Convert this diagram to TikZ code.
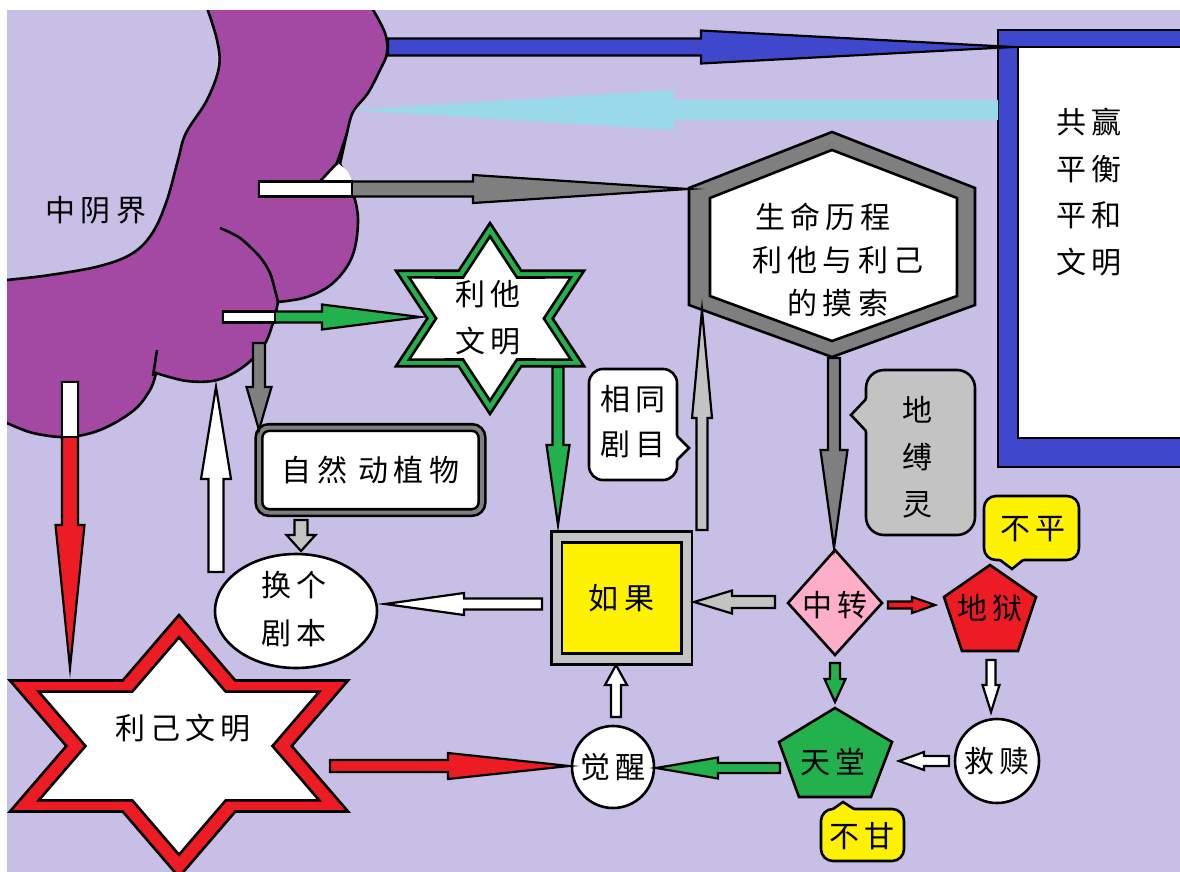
\documentclass[tikz,border=0pt]{standalone}
\usepackage{fontspec}
\newfontfamily\cjk[LetterSpace=17]{Noto Sans CJK SC}
\usetikzlibrary{calc}

\definecolor{lavender}{HTML}{C8BFE7}
\definecolor{cloudpurple}{HTML}{A349A4}
\definecolor{pblue}{HTML}{3F48CC}
\definecolor{pcyan}{HTML}{99D9EA}
\definecolor{dgray}{HTML}{7F7F7F}
\definecolor{lgray}{HTML}{C3C3C3}
\definecolor{pgreen}{HTML}{22B14C}
\definecolor{pred}{HTML}{ED1C24}
\definecolor{pyellow}{HTML}{FFF200}
\definecolor{ppink}{HTML}{FFAEC9}

% fat hand-drawn arrow: [style]{from}{tip}{half shaft}{half head}{head length}
\newcommand\fatarrow[6][]{%
  \draw[#1] let \p1=#2, \p2=#3,
    \n1={atan2(\y2-\y1,\x2-\x1)}, \n2={veclen(\x2-\x1,\y2-\y1)} in
    [shift={(\p1)}, rotate=\n1]
    (0,#4) -- (\n2-#6,#4) -- (\n2-#6,#5) -- (\n2,0) -- (\n2-#6,-#5)
    -- (\n2-#6,-#4) -- (0,-#4) -- cycle;}

\tikzset{
  txt/.style={font=\cjk\fontsize{30}{46}\selectfont, align=center, inner sep=0pt},
  outl/.style={draw=black, line width=2.6pt, line join=miter},
  arr/.style={draw=black, line width=2.2pt, line join=miter, miter limit=20},
  cloud/.style={fill=cloudpurple, draw=black, line width=2.6pt},
}

\begin{document}
\begin{tikzpicture}[x=1pt, y=-1pt]
\useasboundingbox (0,0) rectangle (1180,872);
\clip (0,0) rectangle (1180,872);
\fill[lavender] (0,0) rectangle (1180,872);

% cloud
\draw[cloud] (207,-5)
  -- plot[smooth, tension=.6] coordinates {(207,8) (217,40) (219,67) (207,100) (186,133) (178,160) (167,200) (153,232) (133,253) (100,266) (50,275) (7,280) (-5,281)}
  -- (-5,421)
  -- plot[smooth, tension=.6] coordinates {(7,423) (33,433) (67,437) (100,430) (133,411) (150,390) (156,373)}
  -- plot[smooth, tension=.6] coordinates {(156,373) (187,381) (217,380) (243,367) (263,347) (273,323) (278,302)}
  -- plot[smooth, tension=.6] coordinates {(278,302) (307,297) (333,283) (352,257) (358,222) (353,193) (340,164)}
  -- plot[smooth, tension=.6] coordinates {(340,164) (344,146) (347,133) (353,112) (368,93) (380,70) (387,53) (385,33) (372,8)}
  -- (372,-5) -- cycle;
\draw[line width=2.6pt] plot[smooth] coordinates {(220,228) (240,238) (260,257) (270,273) (275,290) (278,302)};
\draw[line width=2.6pt] plot[smooth] coordinates {(157,350) (155,363) (153,376)};
\fill[white] (339,164) -- (318,182) -- (352,182) .. controls (349,172) .. (339,164);
\draw[line width=2.6pt] (347,133) -- (337,163) -- (313,189);
\node[txt] (limbo) at (96,210) {中阴界};

% right frame
\draw[outl, fill=pblue] (998,30) rectangle (1200,467);
\draw[outl, fill=white] (1018,47) rectangle (1200,438);
\node[txt, font=\cjk\fontsize{30}{46.7}\selectfont] (peace) at (1089,192) {共赢\\平衡\\平和\\文明};

% hexagon
\draw[outl, fill=dgray] (832,132) -- (975,188) -- (975,305) -- (832,357) -- (689,305) -- (689,188) -- cycle;
\draw[outl, fill=white] (832,150) -- (957,198) -- (957,296) -- (832,341) -- (710,296) -- (710,198) -- cycle;
\node[txt, font=\cjk\fontsize{30}{43}\selectfont] (life) at (838,260) {生命历程\kern30pt\\利他与利己\\的摸索};

% green star
\begin{scope}[shift={(490,318.5)}, xscale=1.137]
  \draw[outl, fill=pgreen] (90:95.5) \foreach \a in {90,150,...,390} { -- ({\a+30}:55.1) -- ({\a+60}:95.5)} -- cycle;
  \draw[outl, fill=white, scale=0.86] (90:95.5) \foreach \a in {90,150,...,390} { -- ({\a+30}:55.1) -- ({\a+60}:95.5)} -- cycle;
\end{scope}
\node[txt, font=\cjk\fontsize{30}{47}\selectfont] (altru) at (488,318) {利他\\文明};

% red star
\begin{scope}[shift={(179,746)}, xscale=1.49]
  \draw[outl, fill=pred] (90:131) \foreach \a in {90,150,...,390} { -- ({\a+30}:75.6) -- ({\a+60}:131)} -- cycle;
  \draw[outl, fill=white, scale=0.83] (90:131) \foreach \a in {90,150,...,390} { -- ({\a+30}:75.6) -- ({\a+60}:131)} -- cycle;
\end{scope}
\node[txt] (selfish) at (183,728) {利己文明};

% bubbles
\draw[outl, fill=white, rounded corners=14pt] (589,369) rectangle (677,480);
\fill[white] (674,434) -- (689,448) -- (674,462) -- cycle;
\draw[outl] (677,436) -- (689,448) -- (677,460);
\node[txt, font=\cjk\fontsize{30}{45}\selectfont] (same) at (633,422) {相同\\剧目};
\draw[outl, fill=lgray, rounded corners=18pt] (866,370) rectangle (975,535);
\fill[lgray] (869,397) -- (851,415) -- (869,433) -- cycle;
\draw[outl] (866,399) -- (851,415) -- (866,431);
\node[txt, font=\cjk\fontsize{30}{47}\selectfont] (bound) at (917,457) {地\\缚\\灵};
\draw[outl, fill=pyellow, rounded corners=12pt] (984,496) rectangle (1079,560);
\fill[pyellow] (998,557) -- (1012,569) -- (1025,557) -- cycle;
\draw[outl] (1000,560) -- (1012,569) -- (1023,560);
\node[txt] (unfair) at (1033,529) {不平};
\draw[outl, fill=pyellow, rounded corners=12pt] (821,809) rectangle (904,861);
\fill[pyellow] (831,812) -- (843,802) -- (856,812) -- cycle;
\draw[outl] (833,809) -- (843,802) -- (854,809);
\node[txt] (unwill) at (862,836) {不甘};

% boxes and shapes
\node[outl, double=dgray, double distance=4pt, rounded corners=10pt, fill=white, minimum width=223pt, minimum height=85pt, txt] (nature) at (370.5,470) {自然 动植物};
\node[outl, double=lgray, double distance=8pt, fill=pyellow, minimum width=130pt, minimum height=122pt, txt] (ifbox) at (621.5,598) {如果};
\draw[outl, fill=white] (296,611) ellipse [x radius=81, y radius=57];
\node[txt, font=\cjk\fontsize{30}{48}\selectfont] (script) at (294,609) {换个\\剧本};
\draw[outl, fill=ppink] (835,550) -- (882,603) -- (835,655) -- (788,603) -- cycle;
\node[txt] (turn) at (835,605) {中转};
\draw[outl, fill=pred] (990,565) -- (1036,597) -- (1018,651) -- (962,651) -- (944,597) -- cycle;
\node[txt] (hell) at (990,608) {地狱};
\draw[outl, fill=pgreen] (835,708) -- (892,742) -- (871,797) -- (799,797) -- (779,742) -- cycle;
\node[txt] (heaven) at (833,762) {天堂};
\draw[outl, fill=white] (613,767) circle [radius=41];
\node[txt] (wake) at (613,767) {觉醒};
\draw[outl, fill=white] (997,761) circle [radius=42];
\node[txt] (redeem) at (997,761) {救赎};

% arrow ends
\coordinate (cloud-b) at (388,47);    \coordinate (frame-b) at (1013,47);
\coordinate (frame-c) at (998,110);   \coordinate (cloud-c) at (352,110);
\coordinate (cloud-g) at (259,189);   \coordinate (hex-w) at (688,189);
\coordinate (cloud-gr) at (223,317);  \coordinate (altru-w) at (420,317);
\coordinate (cloud-s) at (259,343);   \coordinate (nature-nw) at (259,430);
\coordinate (script-n) at (216,572);  \coordinate (cloud-w) at (216,387);
\coordinate (cloud-r) at (70,382);    \coordinate (selfish-n) at (70,668);
\coordinate (altru-s) at (558,367);   \coordinate (ifbox-n) at (558,525);
\coordinate (ifbox-ne) at (702,530);  \coordinate (hex-sw) at (702,310);
\coordinate (hex-s) at (834,358);     \coordinate (turn-n) at (834,548);
\coordinate (nature-s) at (301,520);  \coordinate (script-top) at (301,551);
\coordinate (ifbox-w) at (542,604);   \coordinate (script-e) at (385,604);
\coordinate (turn-w) at (775,602);    \coordinate (ifbox-e) at (694,602);
\coordinate (turn-e) at (888,605);    \coordinate (hell-w) at (935,605);
\coordinate (turn-s) at (835,663);    \coordinate (heaven-n) at (835,702);
\coordinate (hell-s) at (991,660);    \coordinate (redeem-n) at (991,712);
\coordinate (redeem-w) at (949,761);  \coordinate (heaven-e) at (899,761);
\coordinate (heaven-w) at (780,768);  \coordinate (wake-e) at (656,768);
\coordinate (selfish-e) at (330,766); \coordinate (wake-w) at (569,766);
\coordinate (wake-n) at (616,717);    \coordinate (ifbox-s) at (616,665);

% arrows
\fatarrow[arr, fill=pblue]{(cloud-b)}{(frame-b)}{8.5}{16.5}{312}
\fatarrow[draw=none, fill=pcyan]{(frame-c)}{(cloud-c)}{10}{20}{322}
\fatarrow[arr, fill=dgray]{(cloud-g)}{(hex-w)}{7.5}{14}{215}
\draw[arr, fill=white] (259,181.5) rectangle (352,196.5);
\fatarrow[arr, fill=pgreen]{(cloud-gr)}{(altru-w)}{5.5}{12.5}{98}
\draw[arr, fill=white] (223,311.5) rectangle (275,322.5);
\fatarrow[arr, fill=dgray]{(cloud-s)}{(nature-nw)}{6}{12.5}{43}
\fatarrow[arr, fill=white]{(script-n)}{(cloud-w)}{7.5}{15}{92}
\fatarrow[arr, fill=pred]{(cloud-r)}{(selfish-n)}{8}{14.5}{143}
\draw[arr, fill=white] (62,382) rectangle (78,437);
\fatarrow[arr, fill=pgreen]{(altru-s)}{(ifbox-n)}{5.5}{11.5}{80}
\fatarrow[arr, fill=lgray]{(ifbox-ne)}{(hex-sw)}{5.5}{10}{108}
\fatarrow[arr, fill=dgray]{(hex-s)}{(turn-n)}{6}{13.5}{98}
\fatarrow[arr, fill=lgray]{(nature-s)}{(script-top)}{6.5}{14.5}{16}
\fatarrow[arr, fill=white]{(ifbox-w)}{(script-e)}{5.5}{11}{79}
\fatarrow[arr, fill=lgray]{(turn-w)}{(ifbox-e)}{6}{11.5}{38}
\fatarrow[arr, fill=pred]{(turn-e)}{(hell-w)}{3.5}{8}{23}
\fatarrow[arr, fill=pgreen]{(turn-s)}{(heaven-n)}{5}{10.5}{23}
\fatarrow[arr, fill=white]{(hell-s)}{(redeem-n)}{4.5}{8.5}{27}
\fatarrow[arr, fill=white]{(redeem-w)}{(heaven-e)}{5}{9}{25}
\fatarrow[arr, fill=pgreen]{(heaven-w)}{(wake-e)}{5}{10.5}{62}
\fatarrow[arr, fill=pred]{(selfish-e)}{(wake-w)}{6}{13}{121}
\fatarrow[arr, fill=white]{(wake-n)}{(ifbox-s)}{5}{11}{20}

% white margins
\fill[white] (0,0) rectangle (1180,10);
\fill[white] (0,0) rectangle (7,872);
\end{tikzpicture}
\end{document}
